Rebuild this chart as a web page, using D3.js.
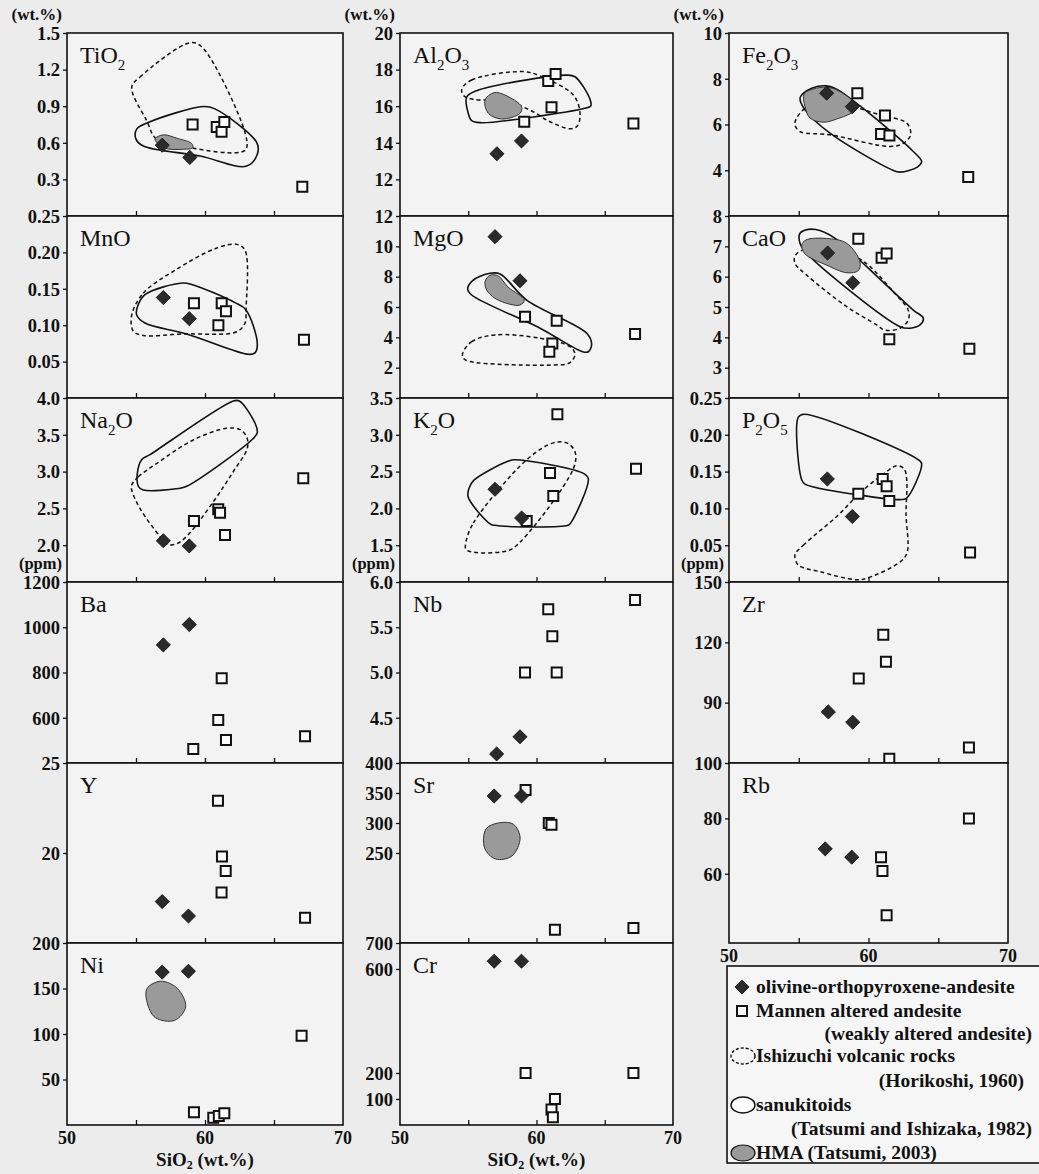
<!DOCTYPE html>
<html><head><meta charset="utf-8">
<script src="https://cdn.jsdelivr.net/npm/d3@7"></script>
<style>
html,body{margin:0;padding:0;background:#ececec;}
svg{display:block;}
text{font-family:"Liberation Serif","Times New Roman",serif;fill:#111;}
</style></head>
<body>
<svg id="chart" width="1039" height="1174"></svg>
<script>
// ---------------- DATA ----------------
const xTickLabels = ["50", "60", "70"];
const legendLabels = ["olivine-orthopyroxene-andesite","Mannen altered andesite","(weakly altered andesite)","Ishizuchi volcanic rocks","(Horikoshi, 1960)","sanukitoids","(Tatsumi and Ishizaka, 1982)","HMA (Tatsumi, 2003)"];

// TiO2
const tio2Domain = [0, 1.5];
const tio2Ticks = [0.3, 0.6, 0.9, 1.2, 1.5];
const tio2Olivine = [[56.9,0.58],[58.9,0.48]];
const tio2Mannen = [[59.1,0.75],[60.85,0.73],[61.2,0.69],[61.4,0.77],[67.05,0.24]];
const tio2Ishizuchi = [[54.69,1.056],[55.29,1.139],[58.91,1.42],[59.76,1.387],[62.9,0.684],[62.97,0.547],[62.3,0.519],[59.15,0.555],[56.5,0.63],[55.78,0.78]];
const tio2Sanukitoid = [[55.05,0.712],[55.89,0.767],[59.88,0.897],[60.72,0.878],[63.75,0.602],[63.79,0.506],[63.02,0.409],[59.64,0.492],[55.53,0.574],[55.0,0.63]];
const tio2HMA = [[56.38,0.63],[56.98,0.665],[57.95,0.638],[59.04,0.593],[59.11,0.56],[58.43,0.547],[56.98,0.56]];

// Al2O3
const al2o3Domain = [10, 20];
const al2o3Ticks = [12, 14, 16, 18, 20];
const al2o3Olivine = [[57.1,13.4],[58.9,14.1]];
const al2o3Mannen = [[59.1,15.15],[60.86,17.38],[61.4,17.76],[61.1,15.94],[67.1,15.05]];
const al2o3Ishizuchi = [[54.52,16.92],[55.25,17.43],[59.03,17.89],[60.26,17.65],[62.7,16.61],[63.19,15.61],[62.99,14.92],[62.45,14.77],[60.99,15.15],[59.52,15.79],[57.82,16.25],[55.37,16.38],[54.69,16.56]];
const al2o3Sanukitoid = [[54.88,16.49],[55.62,16.85],[62.21,17.7],[62.82,17.61],[63.92,16.38],[63.97,16.01],[63.55,15.89],[55.86,15.1],[55.25,15.21],[55.0,15.61]];
const al2o3HMA = [[56.23,16.34],[56.89,16.74],[57.69,16.61],[58.91,15.97],[58.79,15.61],[57.45,15.3],[56.47,15.61]];

// Fe2O3
const fe2o3Domain = [2, 10];
const fe2o3Ticks = [4, 6, 8, 10];
const fe2o3Olivine = [[57.0,7.37],[58.84,6.78]];
const fe2o3Mannen = [[59.2,7.37],[61.18,6.39],[60.9,5.59],[61.5,5.52],[67.15,3.71]];
const fe2o3Ishizuchi = [[54.85,6.28],[55.57,6.76],[57.0,7.07],[58.91,6.78],[60.82,6.42],[62.74,6.06],[63.02,5.55],[62.5,5.18],[61.54,5.04],[57.24,5.55],[55.09,5.69],[54.73,5.98]];
const fe2o3Sanukitoid = [[55.28,7.34],[55.93,7.59],[57.0,7.69],[57.72,7.54],[59.39,6.81],[63.21,4.82],[63.81,4.38],[63.5,4.14],[62.26,3.92],[61.78,3.99],[57.24,5.62],[55.45,6.64],[55.09,7.15]];
const fe2o3HMA = [[55.38,7.34],[56.04,7.55],[57.0,7.63],[57.84,7.48],[59.15,6.81],[58.91,6.56],[57.72,6.24],[56.76,6.1],[55.81,6.28],[55.45,6.78]];

// MnO
const mnoDomain = [0, 0.25];
const mnoTicks = [0.05, 0.10, 0.15, 0.20, 0.25];
const mnoOlivine = [[56.98,0.138],[58.86,0.109]];
const mnoMannen = [[59.2,0.130],[61.21,0.130],[61.52,0.119],[60.97,0.100],[67.17,0.080]];
const mnoIshizuchi = [[54.69,0.114],[55.53,0.144],[57.7,0.174],[60.85,0.206],[62.3,0.211],[62.9,0.203],[62.97,0.121],[62.9,0.103],[62.3,0.091],[58.43,0.088],[55.53,0.086],[54.8,0.092]];
const mnoSanukitoid = [[55.1,0.125],[55.65,0.142],[58.38,0.158],[59.04,0.156],[62.17,0.131],[62.97,0.121],[63.79,0.075],[63.62,0.062],[63.14,0.060],[58.67,0.088],[55.65,0.103],[55.05,0.114]];

// MgO
const mgoDomain = [0, 12];
const mgoTicks = [2, 4, 6, 8, 10, 12];
const mgoOlivine = [[56.96,10.64],[58.79,7.73]];
const mgoMannen = [[59.16,5.36],[61.48,5.1],[61.16,3.6],[60.94,3.05],[67.22,4.22]];
const mgoIshizuchi = [[54.59,2.95],[55.25,3.71],[56.96,4.16],[60.26,3.94],[62.45,3.38],[62.82,2.9],[62.45,2.33],[61.23,2.18],[55.13,2.4],[54.64,2.62]];
const mgoSanukitoid = [[54.96,7.17],[55.32,7.74],[56.59,8.22],[57.33,8.18],[59.28,6.46],[63.68,4.27],[64.04,3.56],[63.8,3.05],[63.38,3.05],[60.26,4.6],[55.25,6.79]];
const mgoHMA = [[56.23,7.67],[56.59,8.09],[57.2,8.04],[57.93,7.3],[59.11,6.46],[58.79,6.13],[58.06,6.18],[56.96,6.57],[56.35,7.12]];

// CaO
const caoDomain = [2, 8];
const caoTicks = [3, 4, 5, 6, 7, 8];
const caoOlivine = [[57.07,6.78],[58.87,5.8]];
const caoMannen = [[59.27,7.25],[60.94,6.62],[61.3,6.76],[61.49,3.94],[67.23,3.62]];
const caoIshizuchi = [[54.73,6.68],[55.33,6.88],[58.91,6.68],[60.11,6.33],[61.78,5.5],[62.85,4.9],[62.85,4.57],[62.26,4.3],[61.18,4.24],[60.59,4.41],[58.44,5.01],[55.57,6.05],[54.73,6.44]];
const caoSanukitoid = [[55.09,7.43],[55.69,7.56],[56.52,7.52],[57.96,7.15],[59.87,6.33],[63.21,4.9],[63.93,4.63],[63.69,4.41],[62.97,4.3],[62.26,4.35],[55.57,6.77],[55.09,7.1]];
const caoHMA = [[55.21,7.04],[55.52,7.21],[57.0,7.26],[58.44,7.1],[59.39,6.49],[59.27,6.2],[58.44,6.13],[57.0,6.38],[55.45,6.75]];

// Na2O
const na2oDomain = [1.5, 4.0];
const na2oTicks = [2.0, 2.5, 3.0, 3.5, 4.0];
const na2oOlivine = [[56.98,2.06],[58.86,1.99]];
const na2oMannen = [[59.2,2.33],[60.96,2.49],[61.09,2.44],[61.45,2.14],[67.12,2.91]];
const na2oIshizuchi = [[54.69,2.82],[55.17,2.93],[56.5,3.11],[59.15,3.43],[61.57,3.59],[62.54,3.57],[63.02,3.47],[63.07,3.32],[62.05,3.0],[60.6,2.59],[58.67,2.12],[57.95,2.02],[57.34,2.01],[56.74,2.12],[55.29,2.5],[54.69,2.75]];
const na2oSanukitoid = [[55.41,3.16],[56.01,3.23],[62.05,3.96],[62.49,3.96],[63.62,3.66],[63.79,3.53],[63.5,3.45],[58.67,2.8],[58.07,2.77],[55.53,2.75],[55.17,2.8],[55.1,2.98]];

// K2O
const k2oDomain = [1.0, 3.5];
const k2oTicks = [1.5, 2.0, 2.5, 3.0, 3.5];
const k2oOlivine = [[56.96,2.26],[58.91,1.87]];
const k2oMannen = [[61.53,3.28],[60.99,2.48],[61.23,2.17],[59.28,1.83],[67.29,2.54]];
const k2oIshizuchi = [[54.84,1.55],[55.37,1.8],[59.28,2.66],[61.23,2.89],[62.21,2.89],[62.82,2.77],[62.7,2.54],[58.3,1.46],[57.45,1.41],[55.62,1.4],[54.84,1.44]];
const k2oSanukitoid = [[55.05,2.27],[55.4,2.38],[57.9,2.64],[58.4,2.66],[63.5,2.47],[63.8,2.4],[62.5,1.8],[62.3,1.77],[56.9,1.77],[56.6,1.79],[55.0,2.15]];

// P2O5
const p2o5Domain = [0, 0.25];
const p2o5Ticks = [0.05, 0.10, 0.15, 0.20, 0.25];
const p2o5Olivine = [[57.05,0.14],[58.84,0.089]];
const p2o5Mannen = [[59.27,0.12],[61.02,0.14],[61.3,0.13],[61.49,0.11],[67.28,0.04]];
const p2o5Ishizuchi = [[54.73,0.037],[55.33,0.05],[57.72,0.089],[59.51,0.123],[61.3,0.15],[62.02,0.158],[62.54,0.154],[62.74,0.139],[62.69,0.093],[62.78,0.041],[62.31,0.028],[59.87,0.005],[59.15,0.003],[56.52,0.014],[54.97,0.023]];
const p2o5Sanukitoid = [[54.97,0.224],[55.38,0.228],[63.5,0.167],[63.81,0.161],[62.74,0.114],[62.38,0.112],[59.39,0.118],[55.45,0.133],[55.21,0.139]];

// Ba
const baDomain = [400, 1200];
const baTicks = [600, 800, 1000, 1200];
const baOlivine = [[56.98,922],[58.86,1012]];
const baMannen = [[61.21,775],[60.96,590],[61.52,502],[59.15,462],[67.25,518]];

// Nb
const nbDomain = [4.0, 6.0];
const nbTicks = [4.5, 5.0, 5.5, 6.0];
const nbOlivine = [[57.08,4.1],[58.79,4.29]];
const nbMannen = [[59.16,5.0],[61.48,5.0],[60.86,5.7],[61.16,5.4],[67.22,5.8]];

// Zr
const zrDomain = [60, 150];
const zrTicks = [90, 120, 150];
const zrOlivine = [[57.12,85.4],[58.87,80.3]];
const zrMannen = [[61.06,123.8],[61.25,110.4],[59.3,102],[61.49,62.1],[67.2,67.7]];

// Y
const yDomain = [15, 25];
const yTicks = [20, 25];
const yOlivine = [[56.9,17.3],[58.8,16.5]];
const yMannen = [[60.94,22.9],[61.23,19.8],[61.5,19.0],[61.2,17.8],[67.25,16.4]];

// Sr
const srDomain = [100, 400];
const srTicks = [250, 300, 350, 400];
const srOlivine = [[56.9,345],[58.9,345]];
const srMannen = [[59.2,355],[60.9,300],[61.1,297],[61.35,122],[67.1,125]];
const srHMA = [[56.3,290],[57.2,300],[58.3,298],[58.8,275],[58.2,245],[57.0,240],[56.2,258]];

// Rb
const rbDomain = [35, 100];
const rbTicks = [60, 80, 100];
const rbOlivine = [[56.9,69],[58.8,66]];
const rbMannen = [[67.2,80],[60.9,66],[61.0,61],[61.3,45]];

// Ni
const niDomain = [0, 200];
const niTicks = [50, 100, 150, 200];
const niOlivine = [[56.9,168],[58.8,169]];
const niMannen = [[67.0,98],[59.2,14],[60.6,8],[61.0,10],[61.4,13]];
const niHMA = [[55.8,150],[56.8,158],[58.0,150],[58.6,130],[57.8,115],[56.4,118],[55.8,135]];

// Cr
const crDomain = [0, 700];
const crTicks = [100, 200, 600, 700];
const crOlivine = [[56.9,630],[58.9,630]];
const crMannen = [[59.2,200],[61.35,100],[61.1,60],[61.2,30],[67.1,200]];

// ---------------- LAYOUT ----------------
const colX = [[67,343],[400,673],[729,1008]];
const rowY = [33,216,398,582,763,943,1125];

const panels = [
  {label:[["TiO",0],["2",1]], col:0,row:0, domain:tio2Domain, ticks:tio2Ticks, olivine:tio2Olivine, mannen:tio2Mannen, ishizuchi:tio2Ishizuchi, sanukitoid:tio2Sanukitoid, hma:tio2HMA, fmt:d3.format(".1f")},
  {label:[["Al",0],["2",1],["O",0],["3",1]], col:1,row:0, domain:al2o3Domain, ticks:al2o3Ticks, olivine:al2o3Olivine, mannen:al2o3Mannen, ishizuchi:al2o3Ishizuchi, sanukitoid:al2o3Sanukitoid, hma:al2o3HMA, fmt:d3.format("d")},
  {label:[["Fe",0],["2",1],["O",0],["3",1]], col:2,row:0, domain:fe2o3Domain, ticks:fe2o3Ticks, olivine:fe2o3Olivine, mannen:fe2o3Mannen, ishizuchi:fe2o3Ishizuchi, sanukitoid:fe2o3Sanukitoid, hma:fe2o3HMA, fmt:d3.format("d")},
  {label:[["MnO",0]], col:0,row:1, domain:mnoDomain, ticks:mnoTicks, olivine:mnoOlivine, mannen:mnoMannen, ishizuchi:mnoIshizuchi, sanukitoid:mnoSanukitoid, fmt:d3.format(".2f")},
  {label:[["MgO",0]], col:1,row:1, domain:mgoDomain, ticks:mgoTicks, olivine:mgoOlivine, mannen:mgoMannen, ishizuchi:mgoIshizuchi, sanukitoid:mgoSanukitoid, hma:mgoHMA, fmt:d3.format("d")},
  {label:[["CaO",0]], col:2,row:1, domain:caoDomain, ticks:caoTicks, olivine:caoOlivine, mannen:caoMannen, ishizuchi:caoIshizuchi, sanukitoid:caoSanukitoid, hma:caoHMA, fmt:d3.format("d")},
  {label:[["Na",0],["2",1],["O",0]], col:0,row:2, domain:na2oDomain, ticks:na2oTicks, olivine:na2oOlivine, mannen:na2oMannen, ishizuchi:na2oIshizuchi, sanukitoid:na2oSanukitoid, fmt:d3.format(".1f")},
  {label:[["K",0],["2",1],["O",0]], col:1,row:2, domain:k2oDomain, ticks:k2oTicks, olivine:k2oOlivine, mannen:k2oMannen, ishizuchi:k2oIshizuchi, sanukitoid:k2oSanukitoid, fmt:d3.format(".1f")},
  {label:[["P",0],["2",1],["O",0],["5",1]], col:2,row:2, domain:p2o5Domain, ticks:p2o5Ticks, olivine:p2o5Olivine, mannen:p2o5Mannen, ishizuchi:p2o5Ishizuchi, sanukitoid:p2o5Sanukitoid, fmt:d3.format(".2f")},
  {label:[["Ba",0]], col:0,row:3, domain:baDomain, ticks:baTicks, olivine:baOlivine, mannen:baMannen, fmt:d3.format("d")},
  {label:[["Nb",0]], col:1,row:3, domain:nbDomain, ticks:nbTicks, olivine:nbOlivine, mannen:nbMannen, fmt:d3.format(".1f")},
  {label:[["Zr",0]], col:2,row:3, domain:zrDomain, ticks:zrTicks, olivine:zrOlivine, mannen:zrMannen, fmt:d3.format("d")},
  {label:[["Y",0]], col:0,row:4, domain:yDomain, ticks:yTicks, olivine:yOlivine, mannen:yMannen, fmt:d3.format("d")},
  {label:[["Sr",0]], col:1,row:4, domain:srDomain, ticks:srTicks, olivine:srOlivine, mannen:srMannen, hma:srHMA, fmt:d3.format("d")},
  {label:[["Rb",0]], col:2,row:4, domain:rbDomain, ticks:rbTicks, olivine:rbOlivine, mannen:rbMannen, fmt:d3.format("d")},
  {label:[["Ni",0]], col:0,row:5, domain:niDomain, ticks:niTicks, olivine:niOlivine, mannen:niMannen, hma:niHMA, fmt:d3.format("d")},
  {label:[["Cr",0]], col:1,row:5, domain:crDomain, ticks:crTicks, olivine:crOlivine, mannen:crMannen, fmt:d3.format("d")}
];

const svg = d3.select("#chart");
const closed = d3.curveCatmullRomClosed.alpha(0.5);

function drawDiamond(g, cx, cy, s) {
  g.append("path").attr("d", d3.symbol(d3.symbolSquare, s*s)())
    .attr("transform", `translate(${cx},${cy}) rotate(45)`)
    .attr("fill", "#2a2a2a").attr("stroke", "#111").attr("stroke-width", 0.8);
}
function drawSquare(g, cx, cy, s) {
  g.append("path").attr("d", d3.symbol(d3.symbolSquare, s*s)())
    .attr("transform", `translate(${cx},${cy})`)
    .attr("fill", "#fbfbfb").attr("stroke", "#111").attr("stroke-width", 2);
}

panels.forEach(p => {
  const [x0, x1] = colX[p.col];
  const y0 = rowY[p.row], y1 = rowY[p.row+1];
  const x = d3.scaleLinear().domain([50,70]).range([x0,x1]);
  const y = d3.scaleLinear().domain(p.domain).range([y1,y0]);
  const g = svg.append("g");
  const clipId = "clip" + p.col + "_" + p.row;
  g.append("clipPath").attr("id", clipId).append("rect")
    .attr("x", x0).attr("y", y0).attr("width", x1-x0).attr("height", y1-y0);
  g.append("rect").attr("x", x0).attr("y", y0).attr("width", x1-x0).attr("height", y1-y0)
    .attr("fill", "#f3f3f3");

  const inner = g.append("g").attr("clip-path", `url(#${clipId})`);
  const line = d3.line().x(d => x(d[0])).y(d => y(d[1])).curve(closed);
  if (p.sanukitoid) inner.append("path").attr("d", line(p.sanukitoid))
    .attr("fill", "none").attr("stroke", "#111").attr("stroke-width", 1.6);
  if (p.ishizuchi) inner.append("path").attr("d", line(p.ishizuchi))
    .attr("fill", "none").attr("stroke", "#111").attr("stroke-width", 1.5).attr("stroke-dasharray", "4,3");
  if (p.hma) inner.append("path").attr("d", line(p.hma))
    .attr("fill", "#9a9a9a").attr("stroke", "#333").attr("stroke-width", 1);
  p.mannen.forEach(d => drawSquare(inner, x(d[0]), y(d[1]), 10));
  p.olivine.forEach(d => drawDiamond(inner, x(d[0]), y(d[1]), 10));

  // bottom x ticks (inward)
  const xa = d3.axisBottom(x).tickValues([55,60,65]).tickSize(-5).tickFormat("");
  g.append("g").attr("transform", `translate(0,${y1})`).call(xa)
    .call(s => s.select(".domain").remove())
    .call(s => s.selectAll("line").attr("stroke", "#111").attr("stroke-width", 1.3));
  // y axis
  const ya = d3.axisLeft(y).tickValues(p.ticks).tickSize(4).tickPadding(3).tickFormat(p.fmt);
  g.append("g").attr("transform", `translate(${x0},0)`).call(ya)
    .call(s => s.select(".domain").remove())
    .call(s => s.selectAll("line").attr("stroke", "#111").attr("stroke-width", 1.3))
    .call(s => s.selectAll("text").attr("font-size", 18.5).attr("fill", "#111")
      .attr("font-family", '"Liberation Serif", serif').attr("font-weight", "bold").attr("dy", "0.34em"));

  g.append("rect").attr("x", x0).attr("y", y0).attr("width", x1-x0).attr("height", y1-y0)
    .attr("fill", "none").attr("stroke", "#111").attr("stroke-width", 1.6);

  // element label
  const t = g.append("text").attr("x", x0+13).attr("y", y0+30).attr("font-size", 24);
  p.label.forEach(([s, sub], i) => {
    const prev = i > 0 ? p.label[i-1][1] : 0;
    const ts = t.append("tspan").text(s);
    if (sub) ts.attr("font-size", 15);
    ts.attr("dy", sub && !prev ? 7 : (!sub && prev ? -7 : 0));
  });
});

// unit labels
const unitTxt = [["(wt.%)", 19.5, 17],["(ppm)", 569, 16.5]];
[0,1,2].forEach(c => {
  unitTxt.forEach(([txt, by, fs]) => {
    svg.append("text").attr("x", colX[c][0]-5).attr("y", by).attr("text-anchor", "end")
      .attr("font-size", fs).attr("font-weight", "bold").text(txt);
  });
});

// x axis labels
function xLabels(c, yBase, withTitle) {
  const x = d3.scaleLinear().domain([50,70]).range(colX[c]);
  [50,60,70].forEach((v,i) => {
    svg.append("text").attr("x", x(v)).attr("y", yBase).attr("text-anchor", "middle")
      .attr("font-size", 18).attr("font-weight", "bold").text(xTickLabels[i]);
  });
  if (withTitle) {
    const t = svg.append("text").attr("x", x(60)).attr("y", yBase+22).attr("text-anchor", "middle")
      .attr("font-size", 19).attr("font-weight", "bold");
    t.append("tspan").text("SiO");
    t.append("tspan").text("2").attr("font-size", 12).attr("dy", 3);
    t.append("tspan").text(" (wt.%)").attr("dy", -3);
  }
}
xLabels(0, 1144, true);
xLabels(1, 1144, true);
xLabels(2, 962, false);

// legend
const lg = svg.append("g");
lg.append("rect").attr("x", 727).attr("y", 966).attr("width", 330).attr("height", 197)
  .attr("fill", "#f6f6f6").attr("stroke", "#111").attr("stroke-width", 1.6);
drawDiamond(lg, 742, 987, 10);
drawSquare(lg, 742, 1011, 10);
lg.append("ellipse").attr("cx", 743).attr("cy", 1056).attr("rx", 12).attr("ry", 8)
  .attr("fill", "none").attr("stroke", "#111").attr("stroke-width", 1.4).attr("stroke-dasharray", "3,2");
lg.append("ellipse").attr("cx", 743).attr("cy", 1105).attr("rx", 12).attr("ry", 8)
  .attr("fill", "#fff").attr("stroke", "#111").attr("stroke-width", 1.4);
lg.append("ellipse").attr("cx", 743).attr("cy", 1153).attr("rx", 12).attr("ry", 8)
  .attr("fill", "#9a9a9a").attr("stroke", "#111").attr("stroke-width", 1.2);
const legPos = [[756,993,"start"],[756,1017,"start"],[1032,1040,"end"],[756,1062,"start"],[1024,1087,"end"],[756,1111,"start"],[1032,1135,"end"],[756,1159,"start"]];
legendLabels.forEach((l, i) => {
  lg.append("text").attr("x", legPos[i][0]).attr("y", legPos[i][1]).attr("text-anchor", legPos[i][2])
    .attr("font-size", 19.5).attr("font-weight", "bold").text(l);
});
</script>
</body></html>
